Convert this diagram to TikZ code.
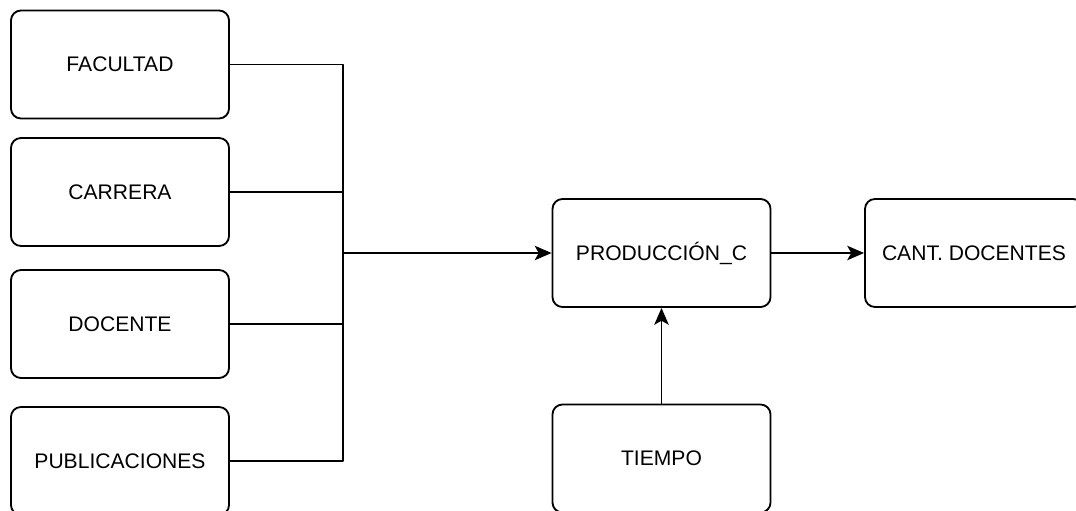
\documentclass[tikz,border=0pt]{standalone}
\usepackage{fontspec}
\setmainfont{Liberation Sans}
\usetikzlibrary{arrows.meta}
\begin{document}
\begin{tikzpicture}[>={Stealth[length=0.42cm,width=0.36cm,inset=0.1cm]},line join=round,x=0.025cm,y=-0.025cm,
    caja/.style={draw,line width=1.3pt,rounded corners=0.25cm,minimum width=5.45cm,minimum height=2.7cm,font=\fontsize{15}{18}\selectfont},
    flecha/.style={line width=1.4pt}]
    \useasboundingbox (0,0) rectangle (1076,511);
    \clip (0,0) rectangle (1076,511);
    % entradas
    \node[caja] (fac) at (120,64.5) {FACULTAD};
    \node[caja] (car) at (120,192) {CARRERA};
    \node[caja] (doc) at (120,324) {DOCENTE};
    \node[caja] (pub) at (120,461) {PUBLICACIONES};
    % proceso y salida
    \node[caja] (prod) at (661.5,253) {PRODUCCIÓN\_C};
    \node[caja] (cant) at (974,253) {CANT. DOCENTES};
    \node[caja] (tiem) at (661.5,458.5) {TIEMPO};
    \coordinate (bus) at (343,253);
    \draw[flecha] (fac.east) -| (bus);
    \draw[flecha] (car.east) -| (bus);
    \draw[flecha] (doc.east) -| (bus);
    \draw[flecha] (pub.east) -| (bus);
    \draw[flecha,->] (bus) -- (prod);
    \draw[flecha,->] (prod) -- (cant);
    \draw[flecha,->] (tiem) -- (prod);
\end{tikzpicture}
\end{document}
